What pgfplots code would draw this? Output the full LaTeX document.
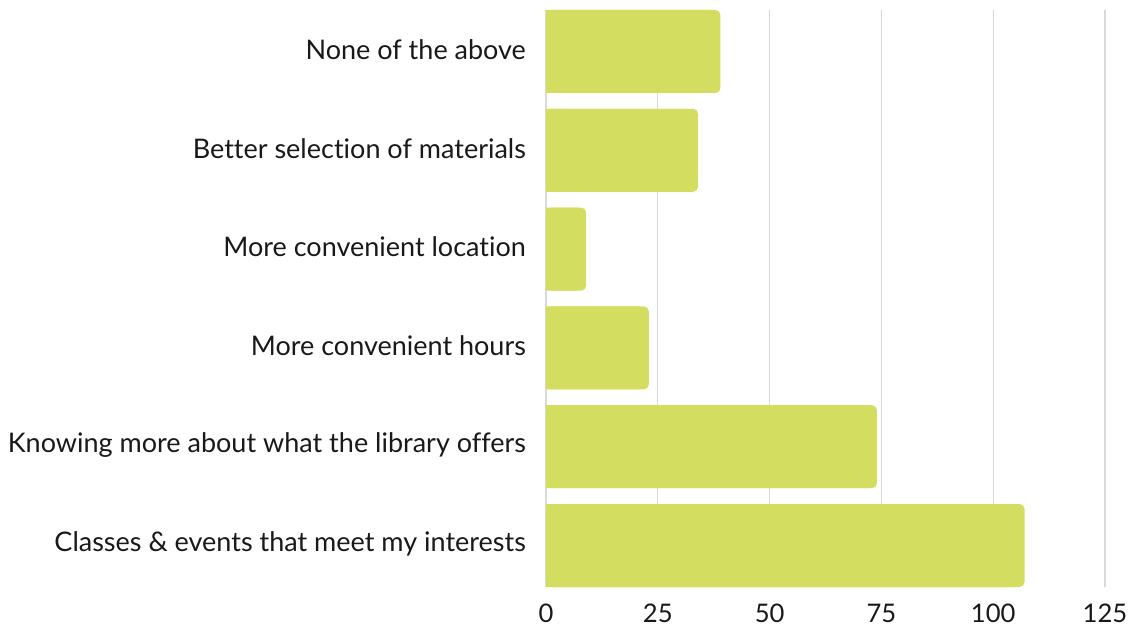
\documentclass[border=0pt]{standalone}
\usepackage{fontspec}
\setmainfont[Ligatures=NoCommon]{Lato}
\usepackage{pgfplots}
\pgfplotsset{compat=1.18}
\definecolor{barc}{RGB}{211,222,96}
\definecolor{gridc}{RGB}{217,217,217}
\definecolor{txt}{RGB}{25,25,25}
\begin{document}
\begin{tikzpicture}
\begin{axis}[
  at={(0,0)}, anchor=south west,
  scale only axis,
  width=279.5pt, height=288.5pt,
  xmin=0, xmax=125,
  ymin=-0.42, ymax=5.42,
  xtick={0,25,50,75,100,125},
  ytick={0,1,2,3,4,5},
  yticklabels={Classes \& events that meet my interests,Knowing more about what the library offers,More convenient hours,More convenient location,Better selection of materials,None of the above},
  xmajorgrids, grid style={gridc, line width=0.6pt},
  axis line style={draw=none},
  major tick length=0pt,
  yticklabel style={font=\fontsize{13.5}{16}\selectfont, text=txt, xshift=-6.5pt, yshift=1pt},
  xticklabel style={font=\fontsize{12.8}{15}\selectfont, text=txt, yshift=-5pt},
  /pgf/number format/assume math mode=true,
  clip=false,
  xbar, bar width=41.5pt, bar shift=0pt,
]
\addplot[fill=barc, draw=none] coordinates {(105,0) (72,1) (21,2) (7,3) (32,4) (37,5)};
\addplot[fill=barc, draw=none, rounded corners=2.5pt] coordinates {(107,0) (74,1) (23,2) (9,3) (34,4) (39,5)};
\end{axis}
\pgfresetboundingbox
\path[use as bounding box] (-273pt,-20pt) rectangle (293.5pt,293.5pt);
\end{tikzpicture}
\end{document}
